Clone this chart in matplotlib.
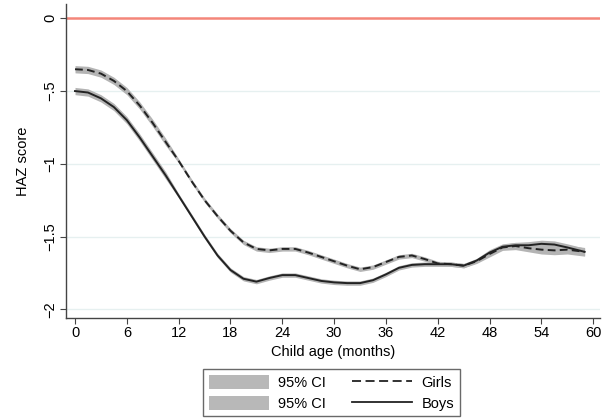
import numpy as np
import matplotlib
matplotlib.use("Agg")
import matplotlib.pyplot as plt
from matplotlib.patches import Patch
from matplotlib.lines import Line2D

months = [0, 1.5, 3, 4.5, 6, 7.5, 9, 10.5, 12, 13.5, 15, 16.5, 18, 19.5, 21, 22.5,
          24, 25.5, 27, 28.5, 30, 31.5, 33, 34.5, 36, 37.5, 39, 40.5, 42, 43.5,
          45, 46.5, 48, 49.5, 51, 52.5, 54, 55.5, 57, 59]

girls = [-0.35, -0.355, -0.38, -0.43, -0.50, -0.60, -0.72, -0.85, -0.98, -1.12,
         -1.25, -1.36, -1.46, -1.54, -1.585, -1.595, -1.585, -1.585, -1.61, -1.64,
         -1.67, -1.70, -1.725, -1.71, -1.675, -1.64, -1.63, -1.655, -1.685, -1.69,
         -1.70, -1.67, -1.62, -1.575, -1.565, -1.58, -1.59, -1.595, -1.59, -1.605]

boys = [-0.50, -0.51, -0.55, -0.61, -0.70, -0.82, -0.95, -1.08, -1.22, -1.36,
        -1.50, -1.63, -1.73, -1.79, -1.81, -1.785, -1.765, -1.765, -1.785, -1.805,
        -1.815, -1.82, -1.82, -1.80, -1.76, -1.715, -1.695, -1.69, -1.69, -1.69,
        -1.70, -1.665, -1.61, -1.57, -1.56, -1.56, -1.55, -1.555, -1.575, -1.605]

# half-width of the 95% CI band
ci_girls = [0.025] * 8 + [0.015] * 24 + [0.02, 0.02, 0.025, 0.025, 0.03, 0.03, 0.03, 0.03]
ci_boys = [0.025] * 8 + [0.015] * 24 + [0.02, 0.02, 0.02, 0.025, 0.025, 0.025, 0.025, 0.025]

yticks = [0, -0.5, -1, -1.5, -2]
ytick_labels = ["0", "\u2212.5", "\u22121", "\u22121.5", "\u22122"]
xticks = list(range(0, 61, 6))

plt.rcParams['font.family'] = ['Liberation Sans', 'DejaVu Sans']
plt.rcParams['font.size'] = 10.5

fig = plt.figure(figsize=(6.05, 4.19), dpi=100)
ax = fig.add_axes([0.109, 0.241, 0.883, 0.75])

m = np.array(months)
g = np.array(girls)
b = np.array(boys)
cg = np.array(ci_girls)
cb = np.array(ci_boys)

for y in yticks[1:]:
    ax.axhline(y, color='#e6f0f0', lw=1, zorder=0)
ax.axhline(0, color='#f4867a', lw=1.8, zorder=1)

ax.fill_between(m, g - cg, g + cg, color='#b4b4b4', lw=0, zorder=2)
ax.fill_between(m, b - cb, b + cb, color='#b4b4b4', lw=0, zorder=2)
ax.plot(m, g, color='#222222', lw=1.4, ls=(0, (4, 2.2)), zorder=3)
ax.plot(m, b, color='#222222', lw=1.4, zorder=3)

ax.set_xlim(-1.05, 60.8)
ax.set_ylim(-2.06, 0.1)
ax.set_xticks(xticks)
ax.set_yticks(yticks)
ax.set_yticklabels(ytick_labels, rotation=90, va='center')
ax.tick_params(direction='out', length=4, width=0.8, color='#444444', pad=2)
for s in ['top', 'right']:
    ax.spines[s].set_visible(False)
for s in ['left', 'bottom']:
    ax.spines[s].set_color('#444444')
    ax.spines[s].set_linewidth(1.0)

ax.set_xlabel('Child age (months)', labelpad=3)
ax.set_ylabel('HAZ score', labelpad=10)

handles = [Patch(facecolor='#b8b8b8', edgecolor='none'),
           Patch(facecolor='#b8b8b8', edgecolor='none'),
           Line2D([], [], color='#222222', lw=1.3, ls=(0, (5, 2.5))),
           Line2D([], [], color='#222222', lw=1.3)]
labels = ['95% CI', '95% CI', 'Girls', 'Boys']
leg = fig.legend(handles, labels, ncol=2, loc='upper left',
                 bbox_to_anchor=(203 / 605, 1 - 369 / 419), frameon=True,
                 fancybox=False, edgecolor='#444444', handlelength=4.1,
                 handleheight=1.1, columnspacing=1.8, labelspacing=0.4,
                 borderpad=0.4, borderaxespad=0, handletextpad=0.65)
leg.get_frame().set_linewidth(1.0)

fig.savefig('out.png', dpi=100)
